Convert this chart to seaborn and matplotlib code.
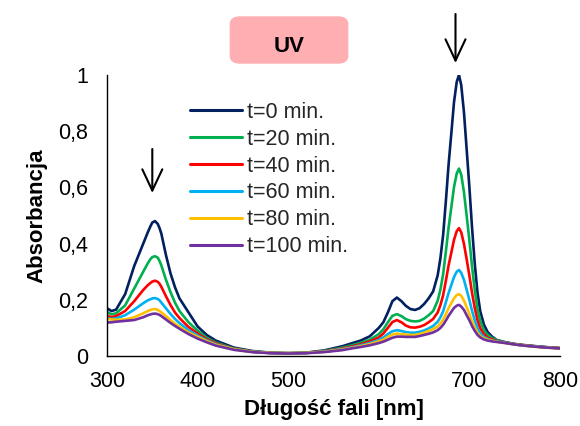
import matplotlib
matplotlib.use("Agg")
import matplotlib.pyplot as plt
from matplotlib.patches import FancyBboxPatch
import seaborn as sns
import pandas as pd

# Wavelength grid (nm) shared by all spectra
wavelength = [300, 305, 310, 320, 330, 340, 345, 348, 350, 353, 356, 358,
              360, 365, 370, 375, 380, 390, 400, 410, 420, 440,
              460, 480, 500, 520, 540, 560, 570, 580, 590, 600,
              605, 610, 615, 620, 625, 630, 635, 640, 645, 650,
              655, 660, 665, 668, 671, 674, 677, 680, 683, 686,
              688.5, 691, 694, 697, 700, 703, 706, 709, 712, 716,
              720, 725, 730, 740, 750, 760, 780, 800]

t0 = [0.170, 0.160, 0.165, 0.220, 0.320, 0.400, 0.440, 0.462, 0.475, 0.480, 0.470, 0.455,
      0.435, 0.360, 0.295, 0.245, 0.205, 0.155, 0.105, 0.075, 0.055, 0.030,
      0.018, 0.012, 0.010, 0.012, 0.020, 0.035, 0.045, 0.055, 0.070, 0.100,
      0.120, 0.155, 0.195, 0.208, 0.195, 0.178, 0.167, 0.164, 0.170, 0.185,
      0.205, 0.230, 0.287, 0.348, 0.430, 0.550, 0.680, 0.790, 0.903, 0.975,
      1.000, 0.964, 0.867, 0.735, 0.600, 0.453, 0.326, 0.224, 0.159, 0.112,
      0.086, 0.069, 0.057, 0.049, 0.043, 0.039, 0.033, 0.028]

t20 = [0.157, 0.148, 0.152, 0.180, 0.240, 0.300, 0.330, 0.345, 0.352, 0.355, 0.350, 0.338,
       0.322, 0.272, 0.228, 0.190, 0.160, 0.120, 0.090, 0.065, 0.048, 0.027,
       0.016, 0.011, 0.010, 0.011, 0.018, 0.030, 0.038, 0.047, 0.058, 0.078,
       0.095, 0.120, 0.143, 0.149, 0.142, 0.131, 0.125, 0.123, 0.125, 0.133,
       0.145, 0.160, 0.197, 0.236, 0.291, 0.371, 0.456, 0.528, 0.601, 0.649,
       0.667, 0.645, 0.583, 0.499, 0.411, 0.316, 0.233, 0.166, 0.124, 0.092,
       0.076, 0.064, 0.056, 0.048, 0.042, 0.038, 0.032, 0.028]

t40 = [0.143, 0.138, 0.142, 0.160, 0.195, 0.235, 0.252, 0.260, 0.265, 0.268, 0.264, 0.257,
       0.246, 0.213, 0.182, 0.155, 0.135, 0.103, 0.080, 0.060, 0.045, 0.026,
       0.015, 0.011, 0.010, 0.011, 0.017, 0.027, 0.034, 0.042, 0.052, 0.066,
       0.080, 0.100, 0.121, 0.128, 0.120, 0.108, 0.102, 0.101, 0.104, 0.110,
       0.120, 0.132, 0.155, 0.181, 0.216, 0.267, 0.322, 0.367, 0.413, 0.444,
       0.455, 0.440, 0.399, 0.344, 0.286, 0.223, 0.170, 0.126, 0.098, 0.078,
       0.066, 0.059, 0.053, 0.047, 0.042, 0.038, 0.032, 0.028]

t60 = [0.135, 0.132, 0.134, 0.145, 0.165, 0.188, 0.198, 0.202, 0.205, 0.206, 0.203, 0.198,
       0.190, 0.170, 0.150, 0.132, 0.117, 0.092, 0.073, 0.056, 0.042, 0.025,
       0.015, 0.011, 0.010, 0.011, 0.016, 0.025, 0.031, 0.038, 0.046, 0.057,
       0.066, 0.078, 0.088, 0.092, 0.089, 0.085, 0.083, 0.083, 0.086, 0.091,
       0.098, 0.107, 0.122, 0.138, 0.159, 0.191, 0.224, 0.252, 0.281, 0.300,
       0.306, 0.296, 0.271, 0.236, 0.199, 0.160, 0.126, 0.098, 0.081, 0.068,
       0.061, 0.055, 0.052, 0.047, 0.041, 0.037, 0.032, 0.027]

t80 = [0.132, 0.130, 0.129, 0.130, 0.138, 0.152, 0.160, 0.164, 0.166, 0.167, 0.164, 0.160,
       0.155, 0.142, 0.128, 0.115, 0.104, 0.084, 0.068, 0.053, 0.040, 0.024,
       0.015, 0.011, 0.010, 0.011, 0.015, 0.023, 0.029, 0.035, 0.042, 0.052,
       0.058, 0.068, 0.076, 0.080, 0.078, 0.076, 0.075, 0.075, 0.078, 0.083,
       0.089, 0.096, 0.105, 0.116, 0.129, 0.149, 0.170, 0.188, 0.205, 0.217,
       0.220, 0.214, 0.197, 0.174, 0.149, 0.123, 0.101, 0.083, 0.071, 0.063,
       0.058, 0.054, 0.051, 0.046, 0.041, 0.037, 0.031, 0.027]

t100 = [0.119, 0.120, 0.122, 0.125, 0.128, 0.138, 0.145, 0.148, 0.150, 0.151, 0.149, 0.146,
        0.142, 0.130, 0.118, 0.107, 0.097, 0.078, 0.062, 0.049, 0.037, 0.022,
        0.014, 0.010, 0.009, 0.010, 0.014, 0.021, 0.027, 0.032, 0.038, 0.046,
        0.051, 0.058, 0.065, 0.069, 0.069, 0.068, 0.068, 0.068, 0.071, 0.075,
        0.079, 0.084, 0.092, 0.100, 0.111, 0.126, 0.143, 0.157, 0.171, 0.179,
        0.182, 0.176, 0.164, 0.145, 0.127, 0.106, 0.089, 0.075, 0.066, 0.059,
        0.055, 0.052, 0.050, 0.046, 0.041, 0.037, 0.031, 0.027]

series_labels = ["t=0 min.", "t=20 min.", "t=40 min.", "t=60 min.", "t=80 min.", "t=100 min."]
series_values = [t0, t20, t40, t60, t80, t100]
colors = ["#002060", "#00B050", "#FF0000", "#00B0F0", "#FFC000", "#7030A0"]

x_ticks = [300, 400, 500, 600, 700, 800]
y_ticks = [0, 0.2, 0.4, 0.6, 0.8, 1.0]
y_tick_labels = ["0", "0,2", "0,4", "0,6", "0,8", "1"]

frames = [pd.DataFrame({"wl": wavelength, "A": vals, "series": lab})
          for lab, vals in zip(series_labels, series_values)]
df = pd.concat(frames, ignore_index=True)

sns.set_theme(style="white")
plt.rcParams["font.family"] = ["Liberation Sans", "DejaVu Sans"]

fig = plt.figure(figsize=(5.8, 4.26), dpi=100)
ax = fig.add_axes([0.1845, 0.1643, 0.7810, 0.6597])

sns.lineplot(data=df, x="wl", y="A", hue="series", hue_order=series_labels,
             palette=colors, sort=False, linewidth=1.9, ax=ax, legend=True)

ax.set_xlim(300, 800)
ax.set_ylim(0, 1)
ax.set_xticks(x_ticks)
ax.set_xticklabels([str(v) for v in x_ticks])
ax.set_yticks(y_ticks)
ax.set_yticklabels(y_tick_labels)
ax.tick_params(axis="both", which="major", direction="out", length=4.5,
               width=1.0, color="black", labelsize=15.5, labelcolor="black")
ax.tick_params(axis="y", pad=9)
ax.tick_params(axis="x", pad=6)
for side in ("top", "right"):
    ax.spines[side].set_visible(False)
for side in ("left", "bottom"):
    ax.spines[side].set_color("black")
    ax.spines[side].set_linewidth(1.0)

ax.set_xlabel("Długość fali [nm]", fontsize=16, fontweight="bold", color="black", labelpad=5)
ax.set_ylabel("Absorbancja", fontsize=16, fontweight="bold", color="black", labelpad=8)

leg = ax.legend(loc="upper left", bbox_to_anchor=(190 / 580, 1 - 102 / 426),
                bbox_transform=fig.transFigure, frameon=False, fontsize=15.5,
                handlelength=2.4, handletextpad=0.25, labelspacing=0.27,
                borderpad=0, borderaxespad=0)
for line in leg.get_lines():
    line.set_linewidth(2.2)

# "UV" badge above the plot
badge = FancyBboxPatch((232 / 580, 1 - 62 / 426), 114 / 580, 44 / 426,
                       boxstyle="round,pad=0.004,rounding_size=0.018",
                       transform=fig.transFigure, facecolor="#FFAEB2",
                       edgecolor="none", zorder=5)
fig.patches.append(badge)
fig.text(289 / 580, 1 - 46 / 426, "UV", ha="center", va="center",
         fontsize=16, fontweight="bold", color="black", zorder=6)

# Downward arrows marking the decreasing bands
arrow_kw = dict(arrowstyle="->,head_width=0.4,head_length=0.85", color="black",
                lw=1.5, mutation_scale=18, shrinkA=0, shrinkB=0)
ax.annotate("", xy=(455.5 / 580, 1 - 63 / 426), xytext=(455.5 / 580, 1 - 14 / 426),
            xycoords="figure fraction", textcoords="figure fraction",
            arrowprops=arrow_kw, annotation_clip=False)
ax.annotate("", xy=(152.3 / 580, 1 - 193 / 426), xytext=(152.3 / 580, 1 - 149 / 426),
            xycoords="figure fraction", textcoords="figure fraction",
            arrowprops=arrow_kw, annotation_clip=False)

fig.savefig("out.png", dpi=100, facecolor="white")
